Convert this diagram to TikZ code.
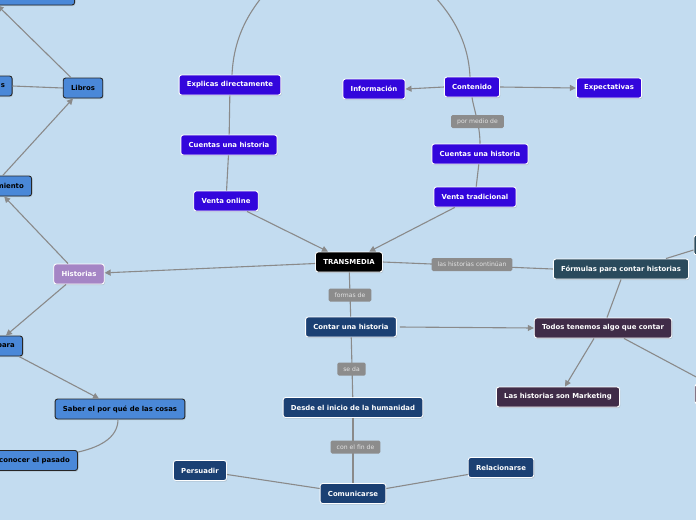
\documentclass[tikz,border=0pt]{standalone}
\usepackage{fontspec}
\setmainfont{DejaVu Sans}
\usetikzlibrary{arrows.meta,shadows}
\definecolor{bgblue}{HTML}{C3DCF0}
\definecolor{lblue}{HTML}{4A88D8}
\definecolor{vio}{HTML}{3306DC}
\definecolor{navy}{HTML}{1B4073}
\definecolor{slate}{HTML}{2A4A5C}
\definecolor{dpurp}{HTML}{402C48}
\definecolor{lav}{HTML}{A585C5}
\definecolor{labgray}{HTML}{8C8C8C}
\definecolor{labtext}{HTML}{E2E2E2}
\definecolor{lgray}{HTML}{8A8A8A}
\begin{document}
\begin{tikzpicture}[x=1pt,y=-1pt,
  base/.style={rounded corners=2.5pt, minimum height=20pt, inner xsep=7.8pt, inner ysep=0pt,
    font=\bfseries\fontsize{6.9}{7.5}\selectfont, line width=0.9pt,
    drop shadow={shadow xshift=0.8pt, shadow yshift=-1.2pt, opacity=0.25}},
  lb/.style={base, fill=lblue, draw=black!85, text=black},
  vi/.style={base, fill=vio, draw=white, text=white},
  nv/.style={base, fill=navy, draw=white, text=white},
  sl/.style={base, fill=slate, draw=white, text=white},
  dp/.style={base, fill=dpurp, draw=white, text=white},
  lv/.style={base, fill=lav, draw=white, text=white},
  bk/.style={base, fill=black, draw=white, text=white},
  lab/.style={fill=labgray, text=labtext, rounded corners=1.5pt, font=\fontsize{6.1}{7}\selectfont,
    inner xsep=6pt, inner ysep=0pt, minimum height=13pt},
  conn/.style={draw=lgray, line width=1.1pt},
  arr/.style={conn, -{Triangle[length=6pt,width=6pt]}}
]
\useasboundingbox (0,0) rectangle (696,520);
\fill[bgblue] (0,0) rectangle (696,520);

% left cluster
\node[lb, minimum width=110pt, anchor=east] (topl) at (75,-5) {};
\node[lb, anchor=east, text width=30pt, align=right, inner xsep=7pt] (sn) at (12.5,86) {s};
\node[lb] (libros) at (83,88) {Libros};
\node[lb, anchor=east] (miento) at (32,186) {miento};
\node[lv] (hist) at (79,274) {Historias};
\node[lb, anchor=east] (para) at (23,346) {para};
\node[lb] (saber) at (120,409) {Saber el por qué de las cosas};
\node[lb, anchor=east] (conocer) at (78,460.5) {conocer el pasado};

% top middle
\node[vi] (expl) at (230,85) {Explicas directamente};
\node[vi] (cl) at (229,145) {Cuentas una historia};
\node[vi] (vo) at (226,201) {Venta online};
\node[vi] (info) at (374,89) {Información};
\node[vi] (cont) at (472,87) {Contenido};
\node[vi] (expe) at (609,88) {Expectativas};
\node[vi] (cr) at (480,154) {Cuentas una historia};
\node[vi] (vt) at (475,197) {Venta tradicional};

% center
\node[bk] (tm) at (349,262) {TRANSMEDIA};
\node[sl] (form) at (621,269) {Fórmulas para contar historias};
\node[nv] (contar) at (351,327) {Contar una historia};
\node[dp] (todos) at (603,328) {Todos tenemos algo que contar};
\node[dp] (mkt) at (558,397) {Las historias son Marketing};
\node[nv] (desde) at (353,407.5) {Desde el inicio de la humanidad};
\node[nv] (com) at (353,493.5) {Comunicarse};
\node[nv] (pers) at (200,470.5) {Persuadir};
\node[nv] (rel) at (501,467.5) {Relacionarse};
\node[sl, anchor=west, minimum width=40pt] (trn) at (693.5,245) {};
\node[dp, anchor=west, minimum width=40pt] (brn) at (694.5,394) {};

% top arcs
\coordinate (arcL) at (300,-40);
\coordinate (arcR) at (392,-40);
\draw[conn] ([xshift=2pt]expl.north) .. controls (234,35) and (250,0) .. (arcL);
\draw[conn] ([xshift=-2pt]cont.north) .. controls (468,35) and (446,-2) .. (arcR);

% left connectors
\draw[arr] ([xshift=-12pt]libros.north) -- ([xshift=-22pt]topl.south);
\draw[conn] (sn.east) -- (libros.west);
\draw[arr] ([xshift=-7.5pt]miento.north) -- ([xshift=-10pt]libros.south);
\draw[arr] ([xshift=-11pt]hist.north) -- ([xshift=-6pt]miento.south);
\draw[arr] (tm) -- (hist);
\draw[arr] ([xshift=-13pt]hist.south) -- (para.north);
\draw[arr] ([xshift=13pt]para.south) -- ([xshift=-21pt]saber.north);
\draw[conn] ([xshift=-2pt]saber.south) .. controls +(0,20) and +(18,-4) .. ([yshift=-2pt]conocer.north east);

% middle top connectors
\draw[conn] (expl) -- (cl);
\draw[conn] (cl) -- (vo);
\draw[arr] (vo) -- (tm);
\draw[arr] (vt) -- (tm);
\draw[conn] (vt) -- (cr);
\draw[conn] (cr.north) .. controls (480,125) and (474,110) .. (cont.south);
\node[lab] (pmd) at (477.5,121.5) {por medio de};
\draw[arr] (cont.west) -- (info.east);
\draw[arr] (cont.east) -- (expe.west);

% center connectors
\draw[conn] (tm.east) -- (form.west);
\node[lab] (lhc) at (472,264.5) {las historias continúan};
\draw[conn] (tm) -- (contar);
\node[lab] (fd) at (350,295) {formas de};
\draw[conn] (contar) -- (desde);
\node[lab] (sd) at (351.5,369) {se da};
\draw[conn] (desde) -- (com);
\node[lab] (cfd) at (355.5,447) {con el fin de};
\draw[conn] ([yshift=-4pt]pers.east) -- ([yshift=5pt]com.west);
\draw[conn] ([yshift=-7pt]rel.west) -- ([yshift=5pt]com.east);
\draw[arr] ([xshift=3pt]contar.east) -- (todos.west);
\draw[conn] (form.south) -- ([xshift=4pt]todos.north);
\draw[arr] ([xshift=-9pt]todos.south) -- ([xshift=7pt]mkt.north);
\draw[conn] ([xshift=21pt]todos.south) -- ([xshift=14pt]brn.north west);
\draw[conn] ([xshift=45pt]form.north) -- ([yshift=-5pt]trn.west);
\end{tikzpicture}
\end{document}
